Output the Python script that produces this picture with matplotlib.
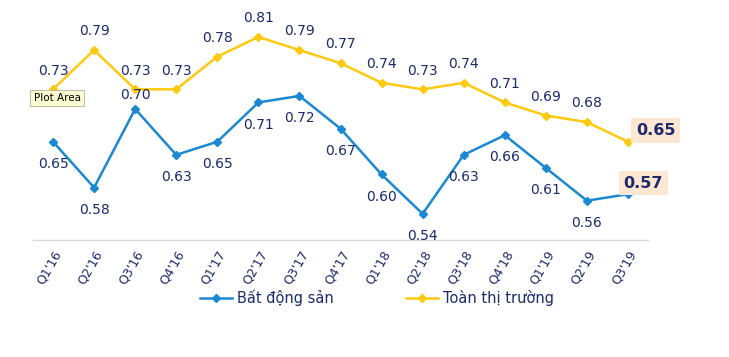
import matplotlib.pyplot as plt

quarters = ["Q1'16", "Q2'16", "Q3'16", "Q4'16", "Q1'17", "Q2'17", "Q3'17", "Q4'17",
            "Q1'18", "Q2'18", "Q3'18", "Q4'18", "Q1'19", "Q2'19", "Q3'19"]
bds = [0.65, 0.58, 0.70, 0.63, 0.65, 0.71, 0.72, 0.67, 0.60, 0.54, 0.63, 0.66, 0.61, 0.56, 0.57]
toan_tt = [0.73, 0.79, 0.73, 0.73, 0.78, 0.81, 0.79, 0.77, 0.74, 0.73, 0.74, 0.71, 0.69, 0.68, 0.65]

blue = '#1a88d2'
yellow = '#ffc90e'
navy = '#1b2a6b'

fig = plt.figure(figsize=(7.29, 3.57), dpi=100)
ax = fig.add_axes([32.5 / 729, 1 - 240 / 357, 616 / 729, 240 / 357])

x = list(range(len(quarters)))
ax.plot(x, bds, color=blue, marker='D', markersize=4.5, linewidth=1.8, label='Bất động sản')
ax.plot(x, toan_tt, color=yellow, marker='D', markersize=4.5, linewidth=1.8, label='Toàn thị trường')

ax.set_xlim(-0.5, len(quarters) - 0.5)
ax.set_ylim(0.5, 0.5 + 240 / 655)

last = len(quarters) - 1
# nhãn giá trị
for i, v in enumerate(bds):
    if i == last:
        continue
    dy = 10 if i == 2 else -16
    ax.annotate(f'{v:.2f}', (i, v), xytext=(0, dy), textcoords='offset points',
                ha='center', va='center', fontsize=10, color=navy)
for i, v in enumerate(toan_tt):
    if i == last:
        continue
    ax.annotate(f'{v:.2f}', (i, v), xytext=(0, 13.5), textcoords='offset points',
                ha='center', va='center', fontsize=10, color=navy)

box = dict(boxstyle='square,pad=0.3', fc='#fde6d2', ec='none')
ax.annotate(f'{bds[last]:.2f}', (last, bds[last]), xytext=(11, 8), textcoords='offset points',
            ha='center', va='center', fontsize=11.5, fontweight='bold', color=navy, bbox=box)
ax.annotate(f'{toan_tt[last]:.2f}', (last, toan_tt[last]), xytext=(20, 8), textcoords='offset points',
            ha='center', va='center', fontsize=11.5, fontweight='bold', color=navy, bbox=box)

# tooltip "Plot Area"
fig.text(57 / 729, 1 - 98 / 357, 'Plot Area', ha='center', va='center', fontsize=7.5, color='black',
         bbox=dict(boxstyle='square,pad=0.3', fc='#fdfbd0', ec='#b0b0a0', lw=0.6))

ax.set_xticks(x)
ax.set_xticklabels(quarters, rotation=60, ha='right', rotation_mode='anchor', fontsize=9, color=navy)
ax.tick_params(axis='x', length=0, pad=6)
ax.set_yticks([])
for s in ['top', 'left', 'right']:
    ax.spines[s].set_visible(False)
ax.spines['bottom'].set_color('#d9d9d9')
ax.spines['bottom'].set_linewidth(1)

fig.legend(loc='center', bbox_to_anchor=(377 / 729, 1 - 298 / 357), ncol=2, frameon=False,
           fontsize=10.5, labelcolor=navy, handlelength=2.2, handletextpad=0.3, columnspacing=5)

plt.savefig('out.png', dpi=100)
plt.close()
